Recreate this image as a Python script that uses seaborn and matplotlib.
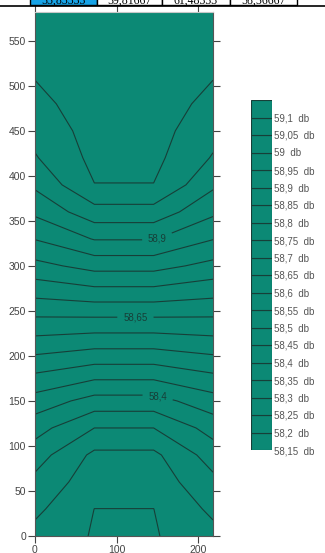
import numpy as np
import matplotlib
matplotlib.use("Agg")
import matplotlib.pyplot as plt
from matplotlib.patches import Rectangle
from matplotlib.lines import Line2D
import seaborn as sns

# ---------------- data ----------------
x_nodes = [0, 72.7, 145.3, 218]
y_nodes = [0, 30, 60, 90, 120, 150, 180, 210, 240, 270, 300, 330, 360, 390,
           420, 450, 480, 510, 545, 582]
edge_db = [58.234, 58.261, 58.287, 58.323, 58.370, 58.429, 58.498, 58.571,
           58.642, 58.714, 58.785, 58.852, 58.910, 58.959, 58.996, 59.017,
           59.036, 59.052, 59.062, 59.070]
center_db = [58.196, 58.1997, 58.222, 58.239, 58.300, 58.381, 58.469, 58.556,
             58.641, 58.730, 58.817, 58.903, 58.981, 59.049, 59.063, 59.069,
             59.075, 59.080, 59.085, 59.088]
levels = [58.15, 58.2, 58.25, 58.3, 58.35, 58.4, 58.45, 58.5, 58.55, 58.6,
          58.65, 58.7, 58.75, 58.8, 58.85, 58.9, 58.95, 59.0, 59.05, 59.1]
legend_labels = ["58,15  db", "58,2  db", "58,25  db", "58,3  db", "58,35  db",
                 "58,4  db", "58,45  db", "58,5  db", "58,55  db", "58,6  db",
                 "58,65  db", "58,7  db", "58,75  db", "58,8  db", "58,85  db",
                 "58,9  db", "58,95  db", "59  db", "59,05  db", "59,1  db"]
labelled_levels = [58.4, 58.65, 58.9]
label_spots = [(150, 154), (123, 243), (150, 330)]
x_ticks = [0, 100, 200]
y_ticks = [0, 50, 100, 150, 200, 250, 300, 350, 400, 450, 500, 550]
table_values = ["55,83333", "59,81667", "61,48333", "58,56667"]

# ---------------- style ----------------
sns.set_theme(style="ticks")
plt.rcParams["font.family"] = ["Liberation Sans", "DejaVu Sans"]

TEAL = "#0c8975"
LINE = "#173f38"
W, H = 325, 553
fig = plt.figure(figsize=(W / 100, H / 100), dpi=100)

def fx(px):
    return px / W

def fy(py):
    return (H - py) / H

# main axes
ax = fig.add_axes([fx(35), fy(536), fx(213) - fx(35), fy(12) - fy(536)])
Z = np.array([[e, c, c, e] for e, c in zip(edge_db, center_db)])
X, Y = np.meshgrid(x_nodes, y_nodes)
ax.contourf(X, Y, Z, levels=[58.0] + levels[1:] + [59.2], colors=[TEAL])
plain_levels = [lv for lv in levels if lv not in labelled_levels]
ax.contour(X, Y, Z, levels=plain_levels, colors=LINE, linewidths=0.8)
lcs = ax.contour(X, Y, Z, levels=labelled_levels, colors=LINE, linewidths=0.8)
fmt = {lv: (f"{lv:g}").replace(".", ",") for lv in labelled_levels}
texts = ax.clabel(lcs, fmt=fmt, manual=label_spots,
                  inline=True, inline_spacing=6, fontsize=7, colors=LINE)
for t in texts:
    t.set_rotation(0)

ax.set_xlim(0, 218)
ax.set_ylim(0, 582)
ax.set_xticks(x_ticks)
ax.set_yticks(y_ticks)
ax.tick_params(axis="both", direction="out", length=5, width=0.8,
               colors="#444444", labelsize=7.5, labelcolor="#444444", pad=1.5)
ax.tick_params(axis="y", right=True, labelright=False)
ax.tick_params(axis="x", top=True, labeltop=False)
for s in ["left", "right", "bottom"]:
    ax.spines[s].set_color("#555555")
    ax.spines[s].set_linewidth(0.8)
ax.spines["top"].set_color("#c8c8c8")
ax.spines["top"].set_linewidth(0.8)

# legend axes
lax = fig.add_axes([fx(251), fy(450), fx(272) - fx(251), fy(100) - fy(450)])
lax.barh(np.arange(len(levels)), [1] * len(levels), height=1.0, align="edge",
         color=TEAL, edgecolor=LINE, linewidth=0.8)
lax.set_xlim(0, 1)
lax.set_ylim(0, len(levels))
lax.set_xticks([])
lax.set_yticks(np.arange(len(levels)))
lax.set_yticklabels(legend_labels)
lax.yaxis.tick_right()
lax.tick_params(axis="y", length=0, pad=1.5, labelsize=7, labelcolor="#555555")
for s in lax.spines.values():
    s.set_visible(False)

# cropped table fragment at the very top
cell_edges = [30, 97, 162, 230, 297]
for i, txt in enumerate(table_values):
    x0, x1 = cell_edges[i], cell_edges[i + 1]
    fig.add_artist(Rectangle((fx(x0), fy(5)), fx(x1) - fx(x0), fy(-2) - fy(5),
                             transform=fig.transFigure,
                             facecolor="#17a2e6" if i == 0 else "white",
                             edgecolor="black", linewidth=1.0))
    fig.text(fx((x0 + x1) / 2), fy(3.5), txt, ha="center", va="baseline",
             fontsize=8.5, family=["Liberation Serif", "DejaVu Serif"],
             color="black")
fig.add_artist(Line2D([0, fx(325)], [fy(5.5), fy(5.5)], transform=fig.transFigure,
                      color="black", linewidth=1.2))

fig.savefig("out.png", dpi=100)
